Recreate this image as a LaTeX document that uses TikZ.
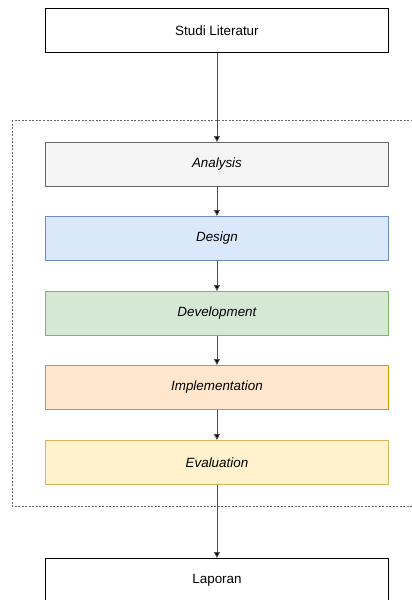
\documentclass[tikz,border=0pt]{standalone}
\usepackage{fontspec}
\setmainfont{Liberation Sans}
\usetikzlibrary{arrows.meta}
\definecolor{anaF}{HTML}{F5F5F5}\definecolor{anaD}{HTML}{666666}
\definecolor{desF}{HTML}{DAE8FC}\definecolor{desD}{HTML}{6C8EBF}
\definecolor{devF}{HTML}{D5E8D4}\definecolor{devD}{HTML}{82B366}
\definecolor{impF}{HTML}{FFE6CC}\definecolor{impD}{HTML}{D79B00}
\definecolor{evaF}{HTML}{FFF2CC}\definecolor{evaD}{HTML}{D6B656}
\tikzset{
  x=1pt,y=-1pt,
  stage/.style={draw, line width=0.9pt, minimum width=343pt, minimum height=44pt, inner sep=0pt, anchor=north west, font=\fontsize{13.4}{15}\selectfont},
  phase/.style={stage, font=\fontsize{13.4}{15}\selectfont\itshape},
  conn/.style={draw=black!70, line width=0.9pt, -{Triangle[length=6pt,width=6pt,fill=black]}},
  frame/.style={draw=black!60, line width=0.8pt, dash pattern=on 2pt off 1.5pt}
}
\begin{document}
\begin{tikzpicture}
\useasboundingbox (0,0) rectangle (412,600);
\clip (0,0) rectangle (412,600);
\fill[white] (0,0) rectangle (412,600);
\draw[frame] (12,120) rectangle (430,506);
\node[stage, fill=white] (studi) at (45,8) {Studi Literatur};
\node[phase, fill=anaF, draw=anaD] (ana) at (45,142) {Analysis};
\node[phase, fill=desF, draw=desD] (des) at (45,216) {Design};
\node[phase, fill=devF, draw=devD] (dev) at (45,291) {Development};
\node[phase, fill=impF, draw=impD] (imp) at (45,365) {Implementation};
\node[phase, fill=evaF, draw=evaD] (eva) at (45,440) {Evaluation};
\node[stage, fill=white, minimum height=44pt, anchor=north west] (lap) at (45,558) {};
\node[font=\fontsize{13.4}{15}\selectfont] (laptext) at (217,580) {Laporan};
\draw[conn] (studi) -- (ana);
\draw[conn] (ana) -- (des);
\draw[conn] (des) -- (dev);
\draw[conn] (dev) -- (imp);
\draw[conn] (imp) -- (eva);
\draw[conn] (eva) -- (lap);
\end{tikzpicture}
\end{document}
